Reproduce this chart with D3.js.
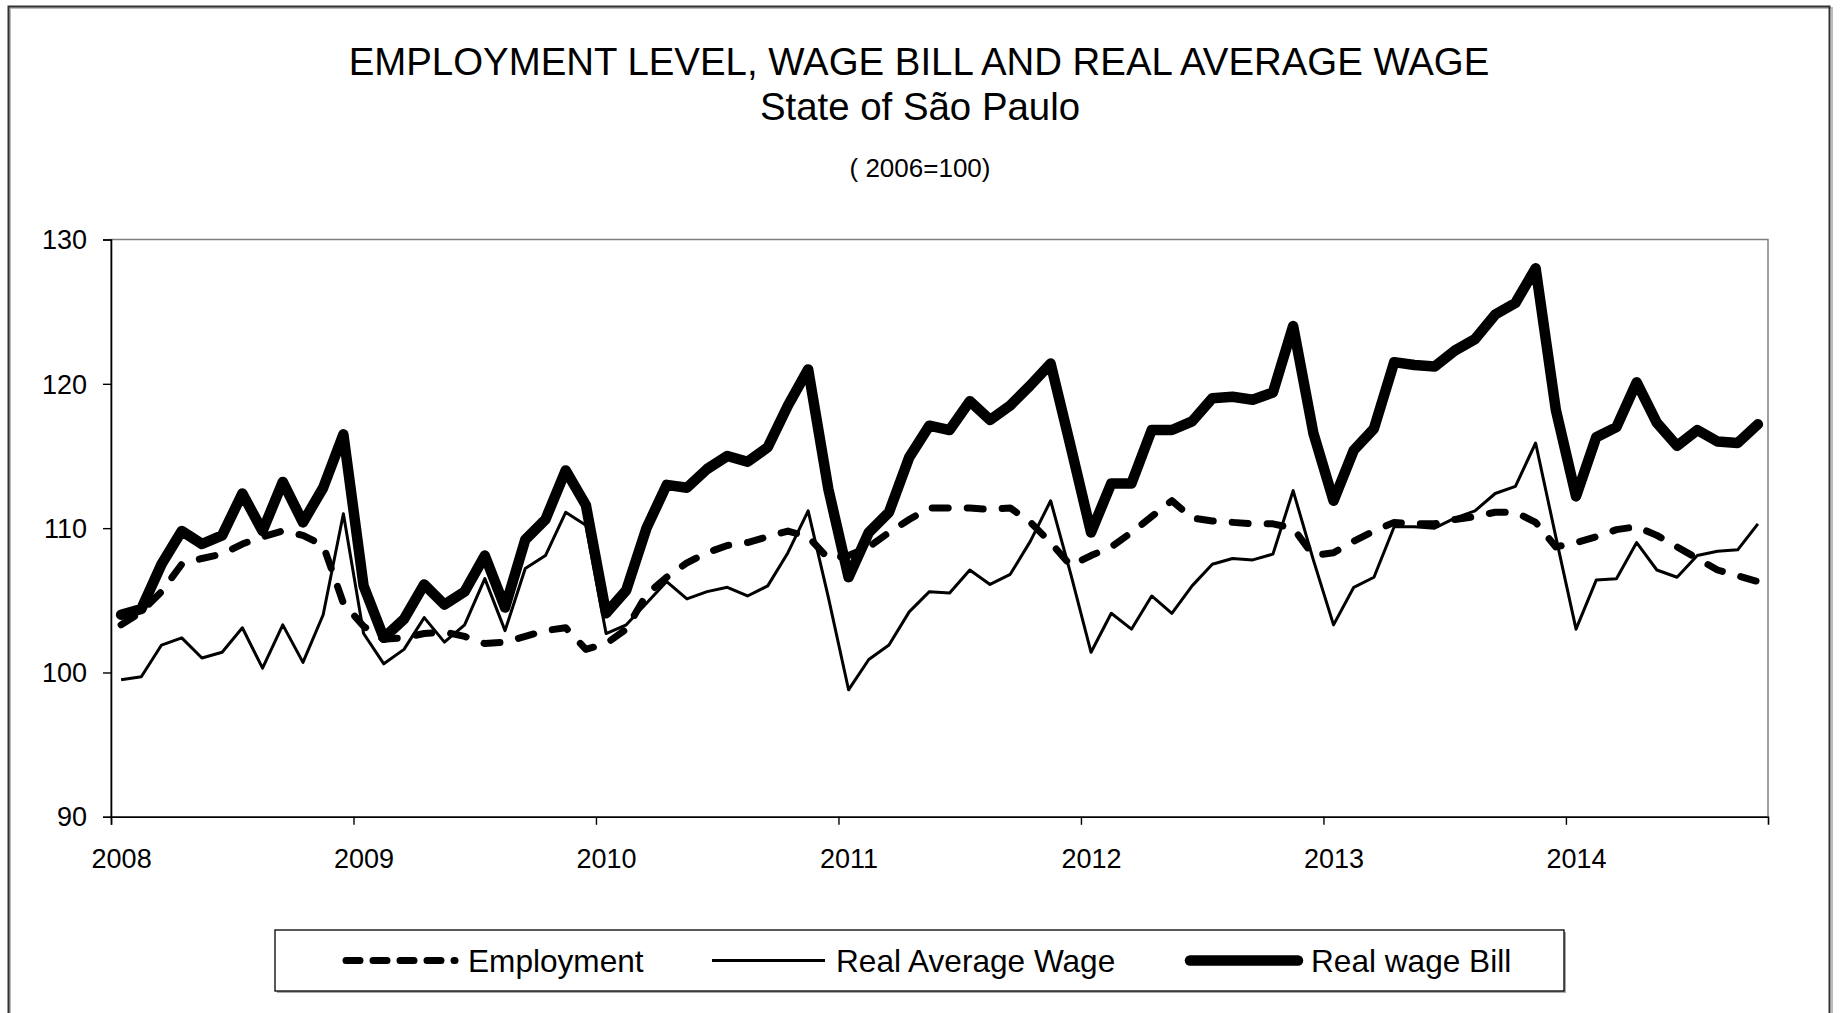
<!DOCTYPE html>
<html>
<head>
<meta charset="utf-8">
<script src="https://cdn.jsdelivr.net/npm/d3@7/dist/d3.min.js"></script>
<style>
  html, body { margin: 0; padding: 0; background: #fff; }
  svg { display: block; font-family: "Liberation Sans", Arial, sans-serif; }
</style>
</head>
<body>
<svg id="chart" width="1843" height="1013"></svg>
<script>
// ---- Data (monthly, Jan 2008 .. Oct 2014; index 2006 = 100) ----
const startYear = 2008;
const yearLabels = ["2008", "2009", "2010", "2011", "2012", "2013", "2014"];
const yTicks = [90, 100, 110, 120, 130];
const seriesNames = ["Employment", "Real Average Wage", "Real wage Bill"];

const employment = [
  103.3, 104.2, 105.6, 107.5, 107.9, 108.2, 108.9, 109.4, 109.8, 109.5, 108.8, 104.8,
  103.2, 102.3, 102.4, 102.7, 102.8, 102.5, 102.0, 102.1, 102.5, 102.9, 103.1, 101.6,
  102.0, 103.0, 105.4, 106.6, 107.6, 108.3, 108.8, 109.0, 109.4, 109.8, 109.4, 107.9,
  108.1, 108.7, 109.7, 110.6, 111.4, 111.4, 111.4, 111.3, 111.4, 110.4, 109.0, 107.4,
  108.1, 108.7, 109.7, 110.8, 111.9, 110.7, 110.5, 110.4, 110.3, 110.3, 110.0, 108.1,
  108.3, 109.1, 109.8, 110.4, 110.3, 110.3, 110.6, 110.8, 111.1, 111.1, 110.4, 108.7,
  109.0, 109.4, 109.9, 110.1, 109.5, 108.7, 107.9, 107.1, 106.7, 106.3
];
const realAverageWage = [
  99.5, 99.7, 101.9, 102.4, 101.0, 101.4, 103.1, 100.3, 103.3, 100.7, 104.0, 111.0,
  102.7, 100.6, 101.6, 103.8, 102.1, 103.3, 106.5, 102.9, 107.2, 108.1, 111.1, 110.2,
  102.7, 103.3, 104.8, 106.3, 105.1, 105.6, 105.9, 105.3, 106.0, 108.3, 111.2, 105.2,
  98.8, 100.9, 101.9, 104.2, 105.6, 105.5, 107.1, 106.1, 106.8, 109.1, 111.9, 106.8,
  101.4, 104.1, 103.0, 105.3, 104.1, 106.0, 107.5, 107.9, 107.8, 108.2, 112.6, 107.8,
  103.3, 105.9, 106.6, 110.1, 110.1, 110.0, 110.7, 111.2, 112.4, 112.9, 115.9, 109.4,
  103.0, 106.4, 106.5, 109.0, 107.1, 106.6, 108.1, 108.4, 108.5, 110.3
];
const realWageBill = [
  104.0, 104.4, 107.5, 109.8, 108.9, 109.5, 112.4, 109.8, 113.2, 110.4, 112.8, 116.5,
  106.0, 102.4, 103.7, 106.1, 104.7, 105.6, 108.1, 104.5, 109.2, 110.6, 114.0, 111.6,
  104.1, 105.7, 110.0, 113.0, 112.8, 114.1, 115.0, 114.6, 115.6, 118.5, 121.0, 112.7,
  106.6, 109.7, 111.1, 114.9, 117.1, 116.8, 118.8, 117.5, 118.5, 119.9, 121.4, 115.6,
  109.7, 113.1, 113.1, 116.8, 116.8, 117.4, 119.0, 119.1, 118.9, 119.4, 124.0, 116.6,
  111.9, 115.4, 116.9, 121.5, 121.3, 121.2, 122.3, 123.1, 124.8, 125.6, 128.0, 118.2,
  112.2, 116.3, 117.0, 120.1, 117.3, 115.7, 116.8, 116.0, 115.9, 117.2
];

// ---- Layout ----
const svg = d3.select("#chart");
const plot = { left: 111, right: 1768, top: 239.5, bottom: 816.8 };
const nMonths = employment.length;

// Outer chart frame
svg.append("rect").attr("x", 10).attr("y", 8).attr("width", 1822).attr("height", 1030)
  .attr("fill", "none").attr("stroke", "#bbb").attr("stroke-width", 2);
svg.append("rect").attr("x", 8.5).attr("y", 6.5).attr("width", 1821).attr("height", 1030)
  .attr("fill", "none").attr("stroke", "#333").attr("stroke-width", 2);

// Titles
const cx = 920;
svg.append("text").attr("x", cx - 1).attr("y", 74.5).attr("text-anchor", "middle")
  .attr("font-size", 38.4).attr("fill", "#000")
  .text("EMPLOYMENT LEVEL, WAGE BILL AND REAL AVERAGE WAGE");
svg.append("text").attr("x", cx).attr("y", 119.5).attr("text-anchor", "middle")
  .attr("font-size", 38.4).attr("fill", "#000")
  .text("State of São Paulo");
svg.append("text").attr("x", cx).attr("y", 177).attr("text-anchor", "middle")
  .attr("font-size", 26).attr("fill", "#000")
  .text("( 2006=100)");

// Scales
const months = d3.range(nMonths);
const x = d3.scaleBand().domain(months).range([plot.left, plot.right]).paddingInner(0).paddingOuter(0);
const xEdge = d3.scaleLinear().domain([0, nMonths]).range([plot.left, plot.right]);
const y = d3.scaleLinear().domain([90, 130]).range([plot.bottom, plot.top]);
const xc = i => x(i) + x.bandwidth() / 2;

// Plot area border
svg.append("rect").attr("x", plot.left).attr("y", plot.top)
  .attr("width", plot.right - plot.left).attr("height", plot.bottom - plot.top)
  .attr("fill", "none").attr("stroke", "#808080").attr("stroke-width", 1.5);

// Y axis
const yAxis = svg.append("g").attr("transform", `translate(${plot.left},0)`)
  .call(d3.axisLeft(y).tickValues(yTicks).tickSize(8).tickPadding(16).tickFormat(d3.format("d")));
yAxis.select(".domain").attr("stroke", "#000").attr("stroke-width", 1.6);
yAxis.selectAll(".tick line").attr("stroke", "#000").attr("stroke-width", 1.4);
yAxis.selectAll(".tick text").attr("font-size", 27).attr("fill", "#000")
  .attr("font-family", "Liberation Sans, Arial, sans-serif").attr("dy", "0.34em");

// X axis (ticks at year boundaries, labels centred on January)
const yearIdx = yearLabels.map((d, k) => k * 12);
const xAxis = svg.append("g").attr("transform", `translate(0,${plot.bottom})`)
  .call(d3.axisBottom(xEdge).tickValues(yearIdx).tickSize(8).tickPadding(24)
    .tickFormat((d, k) => yearLabels[k]));
xAxis.select(".domain").attr("stroke", "#000").attr("stroke-width", 1.6);
xAxis.selectAll(".tick line").attr("stroke", "#000").attr("stroke-width", 1.4);
xAxis.selectAll(".tick text").attr("font-size", 27).attr("fill", "#000")
  .attr("font-family", "Liberation Sans, Arial, sans-serif")
  .attr("x", x.bandwidth() / 2);

// Lines
const line = d3.line().x((d, i) => xc(i)).y(d => y(d));
const styles = [
  { data: employment, width: 7, dash: "16,19", cap: "round" },
  { data: realAverageWage, width: 3, dash: null, cap: "butt" },
  { data: realWageBill, width: 10.5, dash: null, cap: "round" }
];
styles.forEach(s => {
  svg.append("path").datum(s.data).attr("d", line)
    .attr("fill", "none").attr("stroke", "#000")
    .attr("stroke-width", s.width)
    .attr("stroke-linejoin", "round")
    .attr("stroke-linecap", s.cap)
    .attr("stroke-dasharray", s.dash);
});

// Legend
const lg = { x: 275, y: 930, w: 1289, h: 61 };
svg.append("rect").attr("x", lg.x + 2).attr("y", lg.y + 2).attr("width", lg.w).attr("height", lg.h)
  .attr("fill", "#aaa");
svg.append("rect").attr("x", lg.x).attr("y", lg.y).attr("width", lg.w).attr("height", lg.h)
  .attr("fill", "#fff").attr("stroke", "#000").attr("stroke-width", 1.3);
const ly = lg.y + lg.h / 2;
const legendItems = [
  { x1: 346, x2: 455, tx: 468 },
  { x1: 712, x2: 825, tx: 836 },
  { x1: 1190, x2: 1298, tx: 1311 }
];
legendItems.forEach((it, k) => {
  const s = styles[k];
  svg.append("line").attr("x1", it.x1).attr("x2", it.x2).attr("y1", ly).attr("y2", ly)
    .attr("stroke", "#000").attr("stroke-width", s.width)
    .attr("stroke-linecap", s.cap).attr("stroke-dasharray", s.dash ? "14,13" : null);
  svg.append("text").attr("x", it.tx).attr("y", ly + 11).attr("font-size", 31.6).attr("fill", "#000")
    .text(seriesNames[k]);
});
</script>
</body>
</html>
